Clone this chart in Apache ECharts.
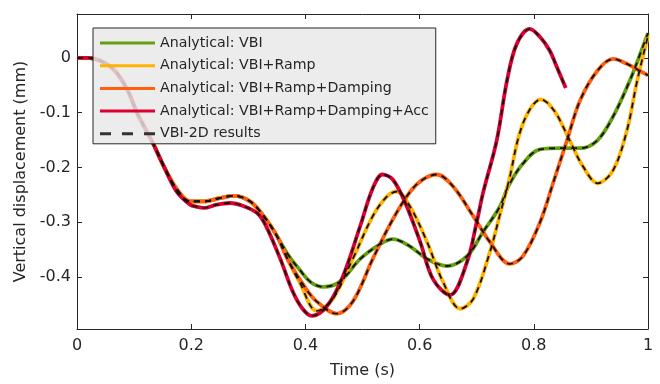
<!DOCTYPE html>
<html>
<head>
<meta charset="utf-8">
<script src="https://cdn.jsdelivr.net/npm/echarts@6/dist/echarts.min.js"></script>
<style>
  html, body { margin: 0; padding: 0; background: #fff; }
  #chart { width: 660px; height: 384px; }
</style>
</head>
<body>
<div id="chart"></div>
<script>
// time (s) / vertical displacement (mm)
const tVbi = [0, 0.02, 0.04, 0.065, 0.088, 0.105, 0.123, 0.135, 0.152, 0.175, 0.198, 0.222, 0.25, 0.275, 0.303, 0.327, 0.35,
  0.37, 0.39, 0.41, 0.431, 0.46, 0.496, 0.531, 0.553, 0.583, 0.613, 0.648, 0.683, 0.711, 0.741, 0.755, 0.781, 0.811, 0.851,
  0.881, 0.911, 0.939, 0.968, 0.991, 1]
const vVbi = [0, 0, -0.005, -0.022, -0.058, -0.1, -0.136, -0.16, -0.198, -0.24, -0.262, -0.262, -0.256, -0.252, -0.262, -0.289, -0.325,
  -0.36, -0.387, -0.41, -0.418, -0.409, -0.367, -0.34, -0.331, -0.344, -0.367, -0.38, -0.362, -0.318, -0.271, -0.235, -0.193, -0.167, -0.165,
  -0.165, -0.151, -0.107, -0.042, 0.02, 0.045]

const tRamp = [0, 0.02, 0.04, 0.065, 0.088, 0.105, 0.123, 0.135, 0.152, 0.175, 0.198, 0.222, 0.25, 0.275, 0.303, 0.327, 0.35,
  0.37, 0.39, 0.42, 0.448, 0.483, 0.518, 0.543, 0.56, 0.583, 0.613, 0.641, 0.671, 0.694, 0.723, 0.741, 0.757, 0.774, 0.792,
  0.812, 0.836, 0.863, 0.886, 0.912, 0.939, 0.963, 0.981, 1]
const vRamp = [0, 0, -0.005, -0.022, -0.058, -0.1, -0.136, -0.16, -0.198, -0.24, -0.262, -0.262, -0.256, -0.252, -0.262, -0.289, -0.325,
  -0.37, -0.41, -0.462, -0.44, -0.367, -0.289, -0.253, -0.244, -0.271, -0.336, -0.409, -0.458, -0.44, -0.355, -0.285, -0.222, -0.142, -0.096,
  -0.076, -0.097, -0.151, -0.198, -0.229, -0.205, -0.133, -0.042, 0.04]

const tDamp = [0, 0.02, 0.04, 0.065, 0.088, 0.105, 0.123, 0.135, 0.152, 0.175, 0.198, 0.222, 0.25, 0.275, 0.303, 0.327, 0.35,
  0.37, 0.4, 0.42, 0.455, 0.483, 0.518, 0.553, 0.583, 0.606, 0.63, 0.658, 0.694, 0.723, 0.758, 0.781, 0.811, 0.834, 0.858,
  0.881, 0.911, 0.939, 0.963, 0.986, 1]
const vDamp = [0, 0, -0.005, -0.022, -0.058, -0.1, -0.136, -0.16, -0.198, -0.24, -0.262, -0.262, -0.256, -0.252, -0.262, -0.289, -0.325,
  -0.37, -0.42, -0.445, -0.467, -0.445, -0.367, -0.295, -0.245, -0.222, -0.213, -0.234, -0.289, -0.336, -0.376, -0.362, -0.3, -0.228, -0.151,
  -0.078, -0.024, -0.002, -0.011, -0.024, -0.032]

const tAcc = [0, 0.02, 0.04, 0.065, 0.088, 0.105, 0.123, 0.135, 0.152, 0.175, 0.198, 0.21, 0.222, 0.245, 0.268, 0.29, 0.315,
  0.33, 0.356, 0.378, 0.395, 0.411, 0.438, 0.466, 0.496, 0.518, 0.535, 0.553, 0.575, 0.601, 0.624, 0.653, 0.683, 0.7, 0.711,
  0.735, 0.753, 0.77, 0.793, 0.811, 0.828, 0.84, 0.856]
const vAcc = [0, 0, -0.005, -0.022, -0.058, -0.1, -0.136, -0.16, -0.198, -0.245, -0.268, -0.272, -0.274, -0.268, -0.265, -0.27, -0.283,
  -0.305, -0.367, -0.427, -0.458, -0.471, -0.453, -0.398, -0.307, -0.238, -0.213, -0.222, -0.265, -0.336, -0.405, -0.433, -0.373, -0.3, -0.247,
  -0.151, -0.042, 0.025, 0.053, 0.038, 0.013, -0.016, -0.055]

const seriesNames = ['Analytical: VBI', 'Analytical: VBI+Ramp', 'Analytical: VBI+Ramp+Damping', 'Analytical: VBI+Ramp+Damping+Acc']
const numName = 'VBI-2D results'
const yTicks = [-0.4, -0.3, -0.2, -0.1, 0]

const colors = ['#66a011', '#ffb300', '#ff5f0f', '#dc0030']
const font = 'DejaVu Sans'
const ink = '#262626'

function zip(t, v) {
  return t.map((x, i) => [x, v[i]])
}

const curves = [zip(tVbi, vVbi), zip(tRamp, vRamp), zip(tDamp, vDamp), zip(tAcc, vAcc)]

const series = []
curves.forEach((d, i) => {
  series.push({
    name: seriesNames[i], type: 'line', data: d, smooth: 0.35, symbol: 'none',
    color: colors[i], lineStyle: { color: colors[i], width: 3.8 }
  })
})
curves.forEach(d => {
  series.push({
    name: numName, type: 'line', data: d, smooth: 0.35, symbol: 'none',
    color: '#111', lineStyle: { color: '#111', width: 1.8, type: [6, 5] }
  })
})

const solidIcon = 'path://M0,0 M0,5.5 L55,5.5 L55,8.5 L0,8.5 Z M55,14'
const dashIcon = 'path://M0,0 M0,5.5 L11,5.5 L11,8.5 L0,8.5 Z M22,5.5 L33,5.5 L33,8.5 L22,8.5 Z M44,5.5 L55,5.5 L55,8.5 L44,8.5 Z M55,14'

const chart = echarts.init(document.getElementById('chart'))
const frameAxis = {
  type: 'value', min: 0, max: 1, interval: 0.2,
  axisLine: { onZero: false, lineStyle: { color: ink, width: 1 } },
  axisTick: { inside: true, length: 5, lineStyle: { color: ink } },
  splitLine: { show: false }
}
const frameY = {
  type: 'value', min: -0.495, max: 0.08,
  axisLine: { show: true, onZero: false, lineStyle: { color: ink, width: 1 } },
  axisTick: { show: true, inside: true, length: 5, customValues: yTicks, lineStyle: { color: ink } },
  splitLine: { show: false }
}
chart.setOption({
  animation: false,
  backgroundColor: '#fff',
  grid: { left: 77, right: 12, top: 14, bottom: 54 },
  legend: {
    orient: 'vertical', left: 93, top: 28,
    itemWidth: 55, itemHeight: 14, itemGap: 8.7,
    padding: [8, 7, 3, 7],
    backgroundColor: 'rgba(232,232,232,0.82)', borderColor: ink, borderWidth: 1,
    textStyle: { fontFamily: font, fontSize: 14.2, color: ink },
    data: [
      { name: seriesNames[0], icon: solidIcon },
      { name: seriesNames[1], icon: solidIcon },
      { name: seriesNames[2], icon: solidIcon },
      { name: seriesNames[3], icon: solidIcon },
      { name: numName, icon: dashIcon, itemStyle: { color: '#333' } }
    ]
  },
  xAxis: [
    Object.assign({}, frameAxis, {
      position: 'bottom',
      axisLabel: { margin: 9, fontFamily: font, fontSize: 16, color: ink },
      name: 'Time (s)', nameLocation: 'middle', nameGap: 34,
      nameTextStyle: { fontFamily: font, fontSize: 16, color: ink }
    }),
    Object.assign({}, frameAxis, { position: 'top', axisLabel: { show: false } })
  ],
  yAxis: [
    Object.assign({}, frameY, {
      position: 'left',
      axisLabel: { customValues: yTicks, margin: 6, fontFamily: font, fontSize: 16, color: ink },
      name: 'Vertical displacement (mm)', nameLocation: 'middle', nameGap: 44,
      nameTextStyle: { fontFamily: font, fontSize: 16, color: ink }
    }),
    Object.assign({}, frameY, { position: 'right', axisLabel: { show: false } })
  ],
  series: series
})
</script>
</body>
</html>
